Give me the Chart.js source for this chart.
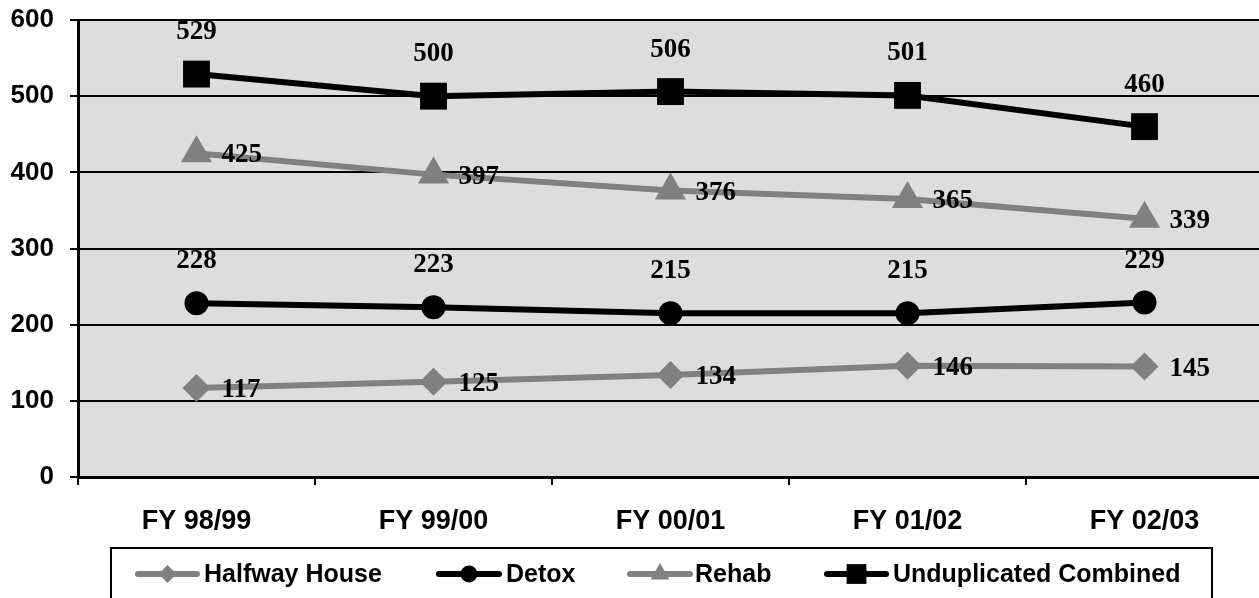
<!DOCTYPE html>
<html><head><meta charset="utf-8">
<script src="https://cdn.jsdelivr.net/npm/chart.js@4/dist/chart.umd.min.js"></script>
<style>html,body{margin:0;padding:0;background:#fff;overflow:hidden;width:1259px;height:598px}#wrap{width:1282px;height:598px;position:relative}</style>
</head><body><div id="wrap"><canvas id="c" width="1282" height="598"></canvas></div>
<script>
const categories = ['FY 98/99','FY 99/00','FY 00/01','FY 01/02','FY 02/03'];
const halfwayHouse = [117,125,134,146,145];
const detox = [228,223,215,215,229];
const rehab = [425,397,376,365,339];
const unduplicated = [529,500,506,501,460];
const seriesNames = ['Halfway House','Detox','Rehab','Unduplicated Combined'];
const yTicks = [0,100,200,300,400,500,600];

const GRAY = '#808080', BLACK = '#000000';
const styles = [
  {color: GRAY, pointStyle: 'rectRot', radius: 14, legendRadius: 9, label: 'right'},
  {color: BLACK, pointStyle: 'circle', radius: 12, legendRadius: 8.5, label: 'above'},
  {color: GRAY, pointStyle: 'triangle', radius: 18, legendRadius: 11, label: 'right'},
  {color: BLACK, pointStyle: 'rect', radius: 19, legendRadius: 14, label: 'above'}
];
const allData = [halfwayHouse, detox, rehab, unduplicated];

const datasets = allData.map((d, i) => ({
  label: seriesNames[i], data: d,
  borderColor: styles[i].color, backgroundColor: styles[i].color,
  borderWidth: 6, pointStyle: styles[i].pointStyle, pointRadius: styles[i].radius,
  pointBorderWidth: 0, pointHoverRadius: styles[i].radius, tension: 0
}));

const bgPlugin = {
  id: 'bg',
  beforeDraw(chart) {
    const {ctx, chartArea: a} = chart;
    ctx.save(); ctx.fillStyle = '#dddddd';
    ctx.fillRect(a.left, a.top, a.right - a.left, a.bottom - a.top);
    ctx.restore();
  }
};

const labelPlugin = {
  id: 'labels',
  afterDatasetsDraw(chart) {
    const ctx = chart.ctx;
    ctx.save();
    ctx.font = 'bold 27px "Liberation Serif", "Times New Roman", serif';
    ctx.fillStyle = '#000';
    chart.data.datasets.forEach((ds, i) => {
      const meta = chart.getDatasetMeta(i);
      meta.data.forEach((pt, j) => {
        const v = ds.data[j];
        if (styles[i].label === 'above') {
          ctx.textAlign = 'center'; ctx.textBaseline = 'middle';
          ctx.fillText(String(v), pt.x, pt.y - 42);
        } else {
          ctx.textAlign = 'left'; ctx.textBaseline = 'middle';
          ctx.fillText(String(v), pt.x + 25, pt.y + 2);
        }
      });
    });
    ctx.restore();
  }
};

const legendPlugin = {
  id: 'customLegend',
  afterDraw(chart) {
    const ctx = chart.ctx;
    ctx.save();
    ctx.strokeStyle = '#000'; ctx.lineWidth = 2;
    ctx.strokeRect(111, 548, 1101, 70);
    const items = [
      {x1: 138, x2: 197, tx: 204},
      {x1: 439, x2: 499, tx: 506},
      {x1: 630, x2: 690, tx: 695},
      {x1: 827, x2: 886, tx: 893}
    ];
    const cy = 574;
    ctx.font = 'bold 25px "Liberation Sans", Arial, sans-serif';
    ctx.textBaseline = 'middle'; ctx.textAlign = 'left';
    items.forEach((it, i) => {
      const st = styles[i];
      ctx.strokeStyle = st.color; ctx.fillStyle = st.color;
      ctx.lineWidth = 6; ctx.lineCap = 'round';
      ctx.beginPath(); ctx.moveTo(it.x1, cy); ctx.lineTo(it.x2, cy); ctx.stroke();
      Chart.helpers.drawPoint(ctx, {pointStyle: st.pointStyle, radius: st.legendRadius, borderWidth: 0}, (it.x1 + it.x2) / 2, cy);
      ctx.fillStyle = '#000';
      ctx.fillText(seriesNames[i], it.tx, cy + 1);
    });
    ctx.restore();
  }
};

new Chart(document.getElementById('c'), {
  type: 'line',
  data: {labels: categories, datasets},
  options: {
    responsive: false, animation: false,
    layout: {padding: {top: 0, left: 0, right: 0, bottom: 0}},
    plugins: {legend: {display: false}, tooltip: {enabled: false}},
    scales: {
      x: {
        offset: true,
        grid: {offset: true, drawOnChartArea: false, drawTicks: true, tickLength: 8, color: '#000', lineWidth: 2},
        border: {color: '#000', width: 3},
        ticks: {color: '#000', font: {family: '"Liberation Sans", Arial, sans-serif', size: 27, weight: 'bold'}, padding: 20, maxRotation: 0},
        afterFit(s) { s.height = 121; }
      },
      y: {
        min: 0, max: 600,
        afterBuildTicks(s) { s.ticks = yTicks.map(v => ({value: v})); },
        grid: {color: '#000', lineWidth: 2, tickLength: 8},
        border: {color: '#000', width: 3},
        ticks: {color: '#000', font: {family: '"Liberation Sans", Arial, sans-serif', size: 26, weight: 'bold'}, padding: 16},
        afterFit(s) { s.width = 78; s.paddingTop = 20; s.paddingBottom = 0; }
      }
    }
  },
  plugins: [bgPlugin, labelPlugin, legendPlugin]
});
</script>
</body></html>
